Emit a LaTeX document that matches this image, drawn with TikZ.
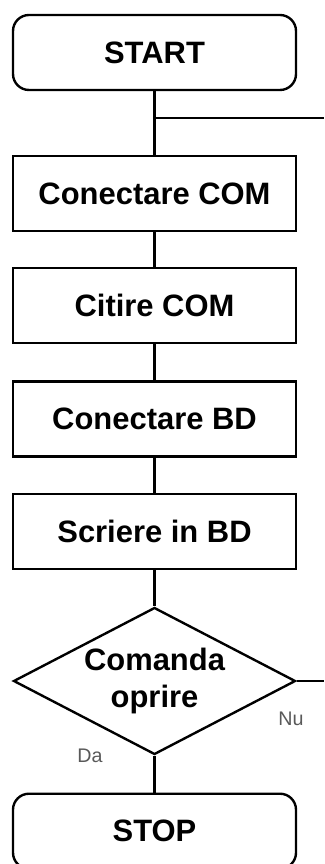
\documentclass[tikz,border=0pt]{standalone}
\usepackage{fontspec}
\setmainfont{Liberation Sans}
\usetikzlibrary{shapes.geometric, arrows}
\tikzstyle{term} = [rectangle, rounded corners=0.4cm, minimum width=7.075cm, minimum height=1.875cm, text centered, draw=black, line width=1.7pt, font=\fontsize{22}{27}\selectfont\bfseries]
\tikzstyle{rect} = [rectangle, minimum width=7.075cm, minimum height=1.875cm, text centered, draw=black, line width=1.7pt, font=\fontsize{22}{27}\selectfont\bfseries]
\tikzstyle{decision} = [diamond, aspect=1.92, minimum width=7.05cm, minimum height=3.675cm, inner sep=0pt, align=center, draw=black, line width=1.7pt, font=\fontsize{22}{27}\selectfont\bfseries]
\tikzstyle{line} = [line width=1.7pt]
\tikzstyle{lbl} = [text=black!65, font=\fontsize{14}{16}\selectfont]

\begin{document}
\begin{tikzpicture}
        \useasboundingbox (0,0) rectangle (8.1,-21.6);
        \node (start) [term] at (3.8625,-1.3125) {START};
        \node (con1) [rect] at (3.8625,-4.8375) {Conectare COM};
        \node (con2) [rect] at (3.8625,-7.6375) {Citire COM};
        \node (con3) [rect] at (3.8625,-10.475) {Conectare BD};
        \node (con4) [rect] at (3.8625,-13.2875) {Scriere in BD};
        \node (dec) [decision] at (3.8625,-17.025) {Comanda\\oprire};
        \node (stop) [term] at (3.8625,-20.78) {STOP};

        \draw [line] (start) -- (con1);
        \draw [line] (con1) -- (con2);
        \draw [line] (con2) -- (con3);
        \draw [line] (con3) -- (con4);
        \draw [line] (con4) -- (dec);
        \draw [line] (dec) -- (stop);

        % loop back from the "Nu" branch
        \coordinate (loop1) at (8.1,-2.95);
        \draw [line] (start.south |- loop1) -- (loop1);
        \coordinate (loop2) at (8.1,-17.025);
        \draw [line] (dec.east) -- (loop2);

        \node (nu) [lbl] at (7.275,-17.96) {Nu};
        \node (da) [lbl] at (2.25,-18.9) {Da};
\end{tikzpicture}
\end{document}
